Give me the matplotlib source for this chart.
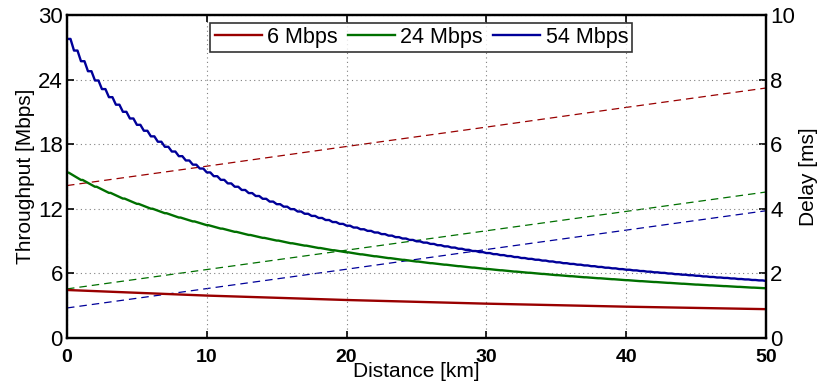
import matplotlib
matplotlib.use('Agg')
import matplotlib.pyplot as plt
import numpy as np

# ------------------------------------------------------------
# Data
# ------------------------------------------------------------

# 54 Mbps throughput, staircase sampled every 0.5 km
dist_fine = np.arange(0, 50.01, 0.5)
thr_54 = [
    27.78, 26.70, 25.71, 24.78, 23.92, 23.12, 22.37, 21.67, 21.01, 20.39,
    19.80, 19.25, 18.73, 18.23, 17.76, 17.32, 16.89, 16.49, 16.10, 15.74,
    15.38, 15.03, 14.69, 14.36, 14.05, 13.75, 13.46, 13.19, 12.93, 12.67,
    12.43, 12.20, 11.97, 11.75, 11.54, 11.34, 11.15, 10.96, 10.77, 10.60,
    10.43, 10.26, 10.10, 9.95, 9.80, 9.65, 9.51, 9.37, 9.24, 9.11,
    8.98, 8.86, 8.74, 8.62, 8.51, 8.40, 8.29, 8.19, 8.08, 7.98,
    7.89, 7.79, 7.70, 7.61, 7.52, 7.43, 7.35, 7.27, 7.19, 7.11,
    7.03, 6.95, 6.88, 6.81, 6.74, 6.67, 6.60, 6.53, 6.47, 6.40,
    6.34, 6.28, 6.22, 6.16, 6.10, 6.05, 5.99, 5.93, 5.88, 5.83,
    5.78, 5.72, 5.67, 5.62, 5.58, 5.53, 5.48, 5.44, 5.39, 5.35,
    5.30,
]

# 24 Mbps throughput, every 1 km
dist_km = np.arange(0, 51, 1)
thr_24 = [
    15.36, 14.68, 14.05, 13.48, 12.95, 12.46, 12.01, 11.59, 11.19, 10.83,
    10.48, 10.16, 9.86, 9.57, 9.30, 9.05, 8.80, 8.58, 8.36, 8.15,
    7.96, 7.77, 7.59, 7.42, 7.26, 7.10, 6.95, 6.81, 6.67, 6.54,
    6.41, 6.29, 6.17, 6.06, 5.95, 5.84, 5.74, 5.64, 5.55, 5.46,
    5.37, 5.28, 5.20, 5.12, 5.04, 4.96, 4.89, 4.82, 4.75, 4.68,
    4.62,
]

# 6 Mbps throughput and the delays, every 10 km
dist_coarse = [0, 10, 20, 30, 40, 50]
thr_6 = [4.46, 3.94, 3.53, 3.19, 2.91, 2.68]
delay_6 = [4.72, 5.32, 5.93, 6.53, 7.14, 7.74]
delay_24 = [1.52, 2.12, 2.72, 3.32, 3.92, 4.52]
delay_54 = [0.93, 1.53, 2.13, 2.74, 3.34, 3.94]

labels = ['6 Mbps', '24 Mbps', '54 Mbps']
colors = ['#990000', '#007000', '#000099']

x_ticks = [0, 10, 20, 30, 40, 50]
thr_ticks = [0, 6, 12, 18, 24, 30]
delay_ticks = [0, 2, 4, 6, 8, 10]


def stair(x, y, flat):
    # hold each value for `flat` km, then slope down to the next one
    xs = np.repeat(np.asarray(x, float), 2)
    xs[1::2] += flat
    ys = np.repeat(np.asarray(y, float), 2)
    return xs, ys


# ------------------------------------------------------------
# Figure
# ------------------------------------------------------------

plt.rcParams['font.family'] = ['Liberation Sans', 'DejaVu Sans']

fig = plt.figure(figsize=(8.18, 3.87), dpi=100)
ax = fig.add_axes([0.0819, 0.1266, 0.8545, 0.8346])
ax2 = ax.twinx()

l6, = ax.plot(dist_coarse, thr_6, color=colors[0], lw=1.7)
l24, = ax.plot(*stair(dist_km, thr_24, 0.12), color=colors[1], lw=1.7)
l54, = ax.plot(*stair(dist_fine, thr_54, 0.25), color=colors[2], lw=1.7)

for d, c in zip([delay_6, delay_24, delay_54], colors):
    ax2.plot(dist_coarse, d, color=c, lw=0.9, dashes=(6, 4))

ax.set_xlim(0, 50)
ax.set_ylim(0, 30)
ax2.set_ylim(0, 10)
ax.set_xticks(x_ticks)
ax.set_yticks(thr_ticks)
ax2.set_yticks(delay_ticks)

ax.grid(True, linestyle=(0, (1, 3)), color='#808080', lw=0.8)

for a in (ax, ax2):
    for s in a.spines.values():
        s.set_linewidth(1.6)
    a.tick_params(direction='in', length=5, width=1.2, labelsize=16, pad=3)
ax.tick_params(axis='x', top=True, labelsize=14, pad=8)
for t in ax.get_xticklabels():
    t.set_fontweight('bold')

ax.set_xlabel('Distance [km]', fontsize=15, labelpad=-3)
ax.set_ylabel('Throughput [Mbps]', fontsize=15, labelpad=2)
ax2.set_ylabel('Delay [ms]', fontsize=15, labelpad=3)

leg = ax.legend([l6, l24, l54], labels, loc='upper center', ncol=3,
                fontsize=15.5, frameon=True, fancybox=False,
                handlelength=2.2, handletextpad=0.25, columnspacing=0.45,
                borderaxespad=0.35, borderpad=0.2,
                bbox_to_anchor=(0.507, 1.0))
leg.get_frame().set_edgecolor('black')
leg.get_frame().set_linewidth(1.2)
leg.set_zorder(10)
ax.set_zorder(ax2.get_zorder() + 1)
ax.patch.set_visible(False)

fig.savefig('out.png', dpi=100)
